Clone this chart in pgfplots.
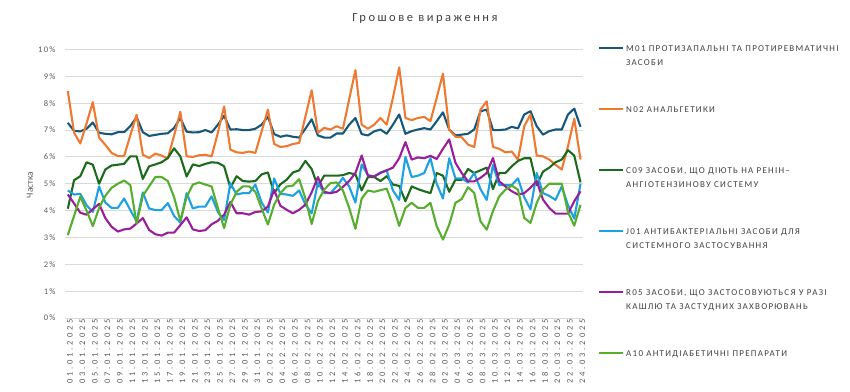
\documentclass[border=0pt]{standalone}
\usepackage{fontspec}
\setmainfont{Carlito}
\newfontfamily\legfont[LetterSpace=14]{Carlito}
\newfontfamily\tickfont[LetterSpace=34]{Carlito}
\newfontfamily\ytickfont[LetterSpace=15]{Carlito}
\newfontfamily\titlefont[LetterSpace=20]{Carlito}
\usepackage{pgfplots}
\usepackage{pgfplotstable}
\pgfplotsset{compat=1.18}
\definecolor{cM}{HTML}{16587C}
\definecolor{cN}{HTML}{EE7A32}
\definecolor{cC}{HTML}{1C6B1C}
\definecolor{cJ}{HTML}{1DA1E0}
\definecolor{cR}{HTML}{991E99}
\definecolor{cA}{HTML}{57AE2E}
\definecolor{gridgray}{HTML}{D9D9D9}
\definecolor{tickgray}{HTML}{595959}
\definecolor{legtext}{HTML}{404040}
\pgfplotstableread{
d M01 N02 C09 J01 R05 A10
0 7.27 8.45 4.07 4.75 4.60 3.09
1 6.97 6.90 5.13 4.60 4.27 3.80
2 6.95 6.50 5.28 4.62 3.92 4.52
3 7.05 7.25 5.80 4.20 3.85 4.00
4 7.28 8.04 5.71 3.95 4.05 3.42
5 6.90 6.72 5.00 4.90 4.25 4.10
6 6.86 6.45 5.53 4.30 3.72 4.55
7 6.84 6.15 5.68 4.10 3.40 4.85
8 6.92 6.03 5.71 4.10 3.22 5.00
9 6.92 6.03 5.74 4.45 3.30 5.12
10 7.15 6.80 6.02 4.02 3.33 4.95
11 7.48 7.57 6.02 3.60 3.52 3.52
12 6.92 6.08 5.18 4.68 3.72 4.55
13 6.78 5.96 5.65 4.08 3.28 4.90
14 6.82 6.12 5.72 4.02 3.12 5.25
15 6.86 6.05 5.80 4.02 3.07 5.25
16 6.88 5.94 5.96 4.28 3.18 5.10
17 7.08 6.80 6.32 3.80 3.18 4.50
18 7.45 7.68 6.02 3.55 3.46 3.62
19 6.94 6.02 5.27 4.65 3.75 4.50
20 6.91 6.00 5.72 4.08 3.30 4.97
21 6.92 6.06 5.66 4.15 3.24 5.05
22 7.00 6.08 5.74 4.15 3.27 4.97
23 6.91 6.02 5.80 4.53 3.49 4.90
24 7.20 6.90 5.78 3.95 3.62 4.10
25 7.53 7.88 5.65 3.65 3.85 3.35
26 7.02 6.27 4.85 5.02 4.32 4.22
27 7.03 6.17 5.28 4.60 3.90 4.70
28 7.00 6.15 5.10 4.65 3.90 4.90
29 7.00 6.20 5.08 4.65 3.85 4.90
30 7.05 6.15 5.10 4.97 3.95 4.70
31 7.20 6.95 5.35 4.30 3.97 4.08
32 7.50 7.76 5.42 3.93 4.15 3.48
33 6.85 6.48 4.65 5.20 4.77 4.22
34 6.75 6.37 4.98 4.62 4.18 4.65
35 6.80 6.40 5.15 4.60 4.03 4.90
36 6.75 6.48 5.42 4.55 3.90 4.93
37 6.72 6.52 5.50 4.75 4.03 5.17
38 7.05 7.50 5.85 4.22 4.22 4.45
39 7.40 8.48 5.55 3.90 4.68 3.50
40 6.80 6.90 4.90 5.05 5.25 4.35
41 6.72 7.08 5.30 4.65 4.70 4.78
42 6.72 7.02 5.30 4.65 4.65 5.02
43 6.87 7.14 5.30 4.90 4.70 5.05
44 6.87 7.05 5.32 5.22 4.88 4.75
45 7.20 8.14 5.40 4.90 5.10 4.10
46 7.45 9.23 5.35 4.30 5.40 3.32
47 6.85 7.20 4.75 5.72 6.05 4.45
48 6.80 7.05 5.25 5.32 5.30 4.75
49 6.95 7.20 5.25 5.27 5.27 4.70
50 7.02 7.45 5.10 5.42 5.40 4.76
51 6.86 7.20 5.28 5.50 5.50 4.82
52 7.20 8.20 4.97 4.75 5.60 4.20
53 7.58 9.33 4.92 4.40 5.95 3.43
54 6.86 7.45 4.35 6.00 6.55 4.10
55 6.96 7.37 4.90 5.25 5.90 4.29
56 7.02 7.45 4.80 5.30 5.98 4.10
57 7.07 7.49 4.72 5.40 5.95 4.10
58 7.02 7.33 4.65 5.95 6.04 4.29
59 7.33 8.20 5.40 5.00 5.92 3.42
60 7.66 9.10 5.30 4.45 6.30 2.92
61 7.02 7.02 4.70 5.95 6.65 3.48
62 6.80 6.75 5.15 5.20 5.78 4.29
63 6.83 6.73 5.15 5.20 5.40 4.43
64 6.86 6.46 5.55 5.05 5.09 4.87
65 7.02 6.37 5.40 5.40 5.09 4.66
66 7.70 7.76 5.50 4.80 5.22 3.60
67 7.76 8.07 5.60 4.40 5.40 3.29
68 7.00 6.37 4.80 5.70 5.96 3.98
69 7.00 6.30 5.40 4.95 5.09 4.53
70 7.02 6.17 5.40 4.95 4.90 4.78
71 7.12 6.20 5.65 4.95 4.72 4.93
72 7.06 5.90 5.85 5.20 4.60 4.78
73 7.58 7.14 5.95 4.50 4.65 3.73
74 7.70 7.58 5.95 4.05 4.85 3.54
75 7.14 6.05 4.95 5.40 5.10 4.29
76 6.83 6.02 5.45 4.65 4.41 4.78
77 6.96 5.90 5.60 4.55 4.10 5.00
78 7.02 5.71 5.80 4.40 3.89 5.00
79 7.02 5.53 5.90 4.90 3.89 5.00
80 7.58 6.40 6.25 4.20 3.89 3.94
81 7.80 7.42 6.05 3.70 4.35 3.44
82 7.12 5.90 5.05 5.00 4.72 4.21
}\datatable
\newcommand{\legone}[1]{\parbox[c][61pt][t]{228pt}{\legfont\fontsize{9}{14}\selectfont\color{legtext}#1}}
\newcommand{\legtwo}[2]{\parbox[c][61pt][t]{228pt}{\legfont\fontsize{9}{14}\selectfont\color{legtext}#1\newline #2}}
\begin{document}
\begin{tikzpicture}
\path[use as bounding box] (-65pt,-73pt) rectangle (785pt,318pt);
\begin{axis}[
  scale only axis,
  width=518pt, height=268.5pt,
  xmin=-0.45, xmax=82.4,
  ymin=0, ymax=10,
  ytick={0,1,...,10},
  yticklabel={\pgfmathprintnumber{\tick}\%},
  /pgf/number format/assume math mode=true,
  xtick={0,2,...,82},
  xticklabels={01.01.2025,03.01.2025,05.01.2025,07.01.2025,09.01.2025,11.01.2025,13.01.2025,15.01.2025,17.01.2025,19.01.2025,21.01.2025,23.01.2025,25.01.2025,27.01.2025,29.01.2025,31.01.2025,02.02.2025,04.02.2025,06.02.2025,08.02.2025,10.02.2025,12.02.2025,14.02.2025,16.02.2025,18.02.2025,20.02.2025,22.02.2025,24.02.2025,26.02.2025,28.02.2025,02.03.2025,04.03.2025,06.03.2025,08.03.2025,10.03.2025,12.03.2025,14.03.2025,16.03.2025,18.03.2025,20.03.2025,22.03.2025,24.03.2025},
  xticklabel style={rotate=90, anchor=east, font=\tickfont\fontsize{8.5}{10}\selectfont, text=tickgray, inner sep=1pt, yshift=-2pt},
  yticklabel style={font=\ytickfont\fontsize{8.5}{10}\selectfont, text=tickgray, xshift=-6pt},
  axis line style={draw=none},
  major tick length=0pt,
  ymajorgrids,
  grid style={draw=gridgray, line width=0.9pt},
  ylabel={Частка},
  ylabel style={at={(axis description cs:-0.0676,0.495)}, anchor=center, font=\fontsize{9.5}{11}\selectfont, text=tickgray},
  legend image code/.code={\draw[#1, line width=2.2pt] (0pt,15pt) -- (24pt,15pt); \path[draw=none, fill=none] (0pt,-30.5pt) rectangle (0pt,30.5pt);},
  legend style={at={(1.029,1.0633)}, anchor=north west, draw=none, fill=none, inner sep=0pt, outer sep=0pt, row sep=0pt, column sep=2pt, nodes={inner sep=0pt, outer sep=0pt}},
  legend cell align=left,
  every axis plot/.append style={line width=2.1pt, line join=round, mark=none},
]
\addplot[cM] table[x=d,y=M01]{\datatable};
\addlegendentry{\legtwo{M01 ПРОТИЗАПАЛЬНІ ТА ПРОТИРЕВМАТИЧНІ}{ЗАСОБИ}}
\addplot[cN] table[x=d,y=N02]{\datatable};
\addlegendentry{\legone{N02 АНАЛЬГЕТИКИ}}
\addplot[cC] table[x=d,y=C09]{\datatable};
\addlegendentry{\legtwo{C09 ЗАСОБИ, ЩО ДІЮТЬ НА РЕНІН–}{АНГІОТЕНЗИНОВУ СИСТЕМУ}}
\addplot[cJ] table[x=d,y=J01]{\datatable};
\addlegendentry{\legtwo{J01 АНТИБАКТЕРІАЛЬНІ ЗАСОБИ ДЛЯ}{СИСТЕМНОГО ЗАСТОСУВАННЯ}}
\addplot[cR] table[x=d,y=R05]{\datatable};
\addlegendentry{\legtwo{R05 ЗАСОБИ, ЩО ЗАСТОСОВУЮТЬСЯ У РАЗІ}{КАШЛЮ ТА ЗАСТУДНИХ ЗАХВОРЮВАНЬ}}
\addplot[cA] table[x=d,y=A10]{\datatable};
\addlegendentry{\legone{A10 АНТИДІАБЕТИЧНІ ПРЕПАРАТИ}}
\end{axis}
\node[font=\titlefont\fontsize{12.5}{14}\selectfont, text=legtext] at (360pt,300pt) {Грошове вираження};
\end{tikzpicture}
\end{document}
